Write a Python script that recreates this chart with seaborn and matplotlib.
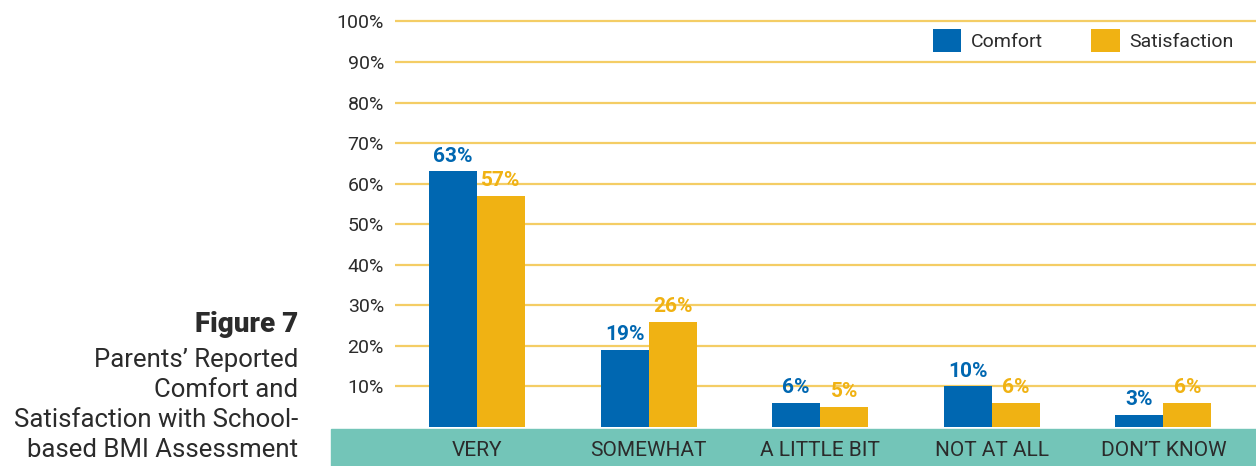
import matplotlib
matplotlib.use("Agg")
import matplotlib.pyplot as plt
import pandas as pd
import seaborn as sns
from matplotlib.patches import Rectangle

categories = ["VERY", "SOMEWHAT", "A LITTLE BIT", "NOT AT ALL", "DON\u2019T KNOW"]
comfort = [63, 19, 6, 10, 3]
satisfaction = [57, 26, 5, 6, 6]
series_names = ["Comfort", "Satisfaction"]
yticks = [10, 20, 30, 40, 50, 60, 70, 80, 90, 100]

blue = "#0067B1"
gold = "#F0B213"
teal = "#73C5B8"
grid_col = "#F3C54A"
text_col = "#2B2B2B"

df = pd.DataFrame({
    "Category": categories * 2,
    "Series": [series_names[0]] * len(categories) + [series_names[1]] * len(categories),
    "Value": comfort + satisfaction,
})

sns.set_style("white")
plt.rcParams["font.family"] = ["Roboto", "DejaVu Sans"]

fig = plt.figure(figsize=(12.56, 4.66), dpi=100)

# teal band behind the category labels
fig.patches.append(Rectangle((331 / 1256, 0), 1 - 331 / 1256, 37 / 466,
                             transform=fig.transFigure, color=teal, zorder=-1))

ax = fig.add_axes([395 / 1256, 39 / 466, 1 - 395 / 1256, 413.7 / 466])
ax.patch.set_alpha(0)

sns.barplot(data=df, x="Category", y="Value", hue="Series",
            palette={"Comfort": blue, "Satisfaction": gold},
            width=0.56, saturation=1, linewidth=0, ax=ax, legend=True, zorder=3)

ax.set_ylim(0, 102)
ax.set_xlim(-0.478, 4.54)
ax.set_yticks(yticks)
ax.set_yticklabels([f"{v}%" for v in yticks], fontsize=14, color=text_col)
ax.tick_params(axis="y", length=0, pad=8)
ax.tick_params(axis="x", length=0, pad=10, labelsize=15, labelcolor=text_col)
ax.set_xlabel("")
ax.set_ylabel("")
for s in ax.spines.values():
    s.set_visible(False)
ax.yaxis.grid(True, color=grid_col, linewidth=1.6, alpha=0.85, zorder=0)
ax.set_axisbelow(True)

for cont, col in zip(ax.containers, [blue, gold]):
    ax.bar_label(cont, labels=[f"{v:.0f}%" for v in cont.datavalues],
                 color=col, fontsize=15, fontweight="bold", padding=4)

ax.legend(loc="upper right", bbox_to_anchor=(0.99, 0.995), frameon=False,
          ncol=2, fontsize=14, handlelength=1.45, handleheight=1.45,
          columnspacing=2.5, handletextpad=0.5, labelcolor=text_col,
          borderaxespad=0.3)

fig.text(298 / 1256, 1 - 325 / 466, "Figure 7", ha="right", va="center",
         fontsize=20, fontweight="heavy", color=text_col)
fig.text(298 / 1256, 1 - 405 / 466,
         "Parents\u2019 Reported\nComfort and\nSatisfaction with School-\nbased BMI Assessment",
         ha="right", va="center", multialignment="right", linespacing=1.33,
         fontsize=18.5, color=text_col)

fig.savefig("out.png", dpi=100)
